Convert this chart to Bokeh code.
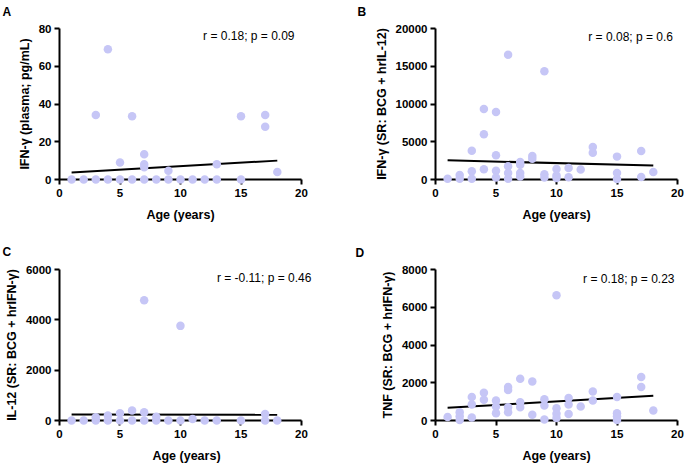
from bokeh.plotting import figure
from bokeh.layouts import gridplot
from bokeh.models import Label, SingleIntervalTicker, NumeralTickFormatter
from bokeh.core.properties import value
from bokeh.embed import file_html
from bokeh.resources import INLINE

# Panel A: plasma IFN-gamma vs age
age_a = [1, 2, 3, 4, 5, 6, 7, 8, 9, 10, 11, 12, 13, 15,
         3, 4, 5, 6, 7, 7, 7, 9, 13, 15, 17, 17, 18]
ifng_plasma = [0, 0, 0, 0, 0, 0, 0, 0, 0, 0, 0, 0, 0, 0,
               34.2, 69, 9, 33.5, 13.4, 8.1, 6.5, 4.6, 8.1, 33.5, 34.2, 27.9, 4.0]
fit_age_a = [1, 18]
fit_ifng_plasma = [3.7, 10.0]

# Panel B: IFN-gamma stimulation ratio (BCG + hrIL-12)
age_b = [1, 2, 2, 3, 3, 3, 4, 4, 4, 5, 5, 5, 5, 6, 6, 6, 6, 7, 7, 7, 7,
         8, 8, 9, 9, 9, 10, 10, 10, 11, 11, 12, 13, 13, 15, 15, 15, 17, 17, 18]
ifng_sr = [100, 600, 100, 3820, 1090, 100, 9340, 6000, 1360, 8950, 3200, 1150, 260,
           16530, 1750, 870, 100, 2320, 1970, 870, 400, 3110, 2760, 14340, 700, 260,
           1400, 520, 200, 1530, 300, 1310, 4300, 3550, 3030, 870, 50, 3780, 330, 1000]
fit_age_b = [1, 18]
fit_ifng_sr = [2540, 1840]

# Panel C: IL-12 stimulation ratio (BCG + hrIFN-gamma)
age_c = [1, 2, 3, 3, 4, 4, 5, 5, 6, 6, 7, 7, 7, 8, 8, 9, 10, 10, 11, 12, 13, 15, 17, 17, 18]
il12_sr = [0, 0, 0, 130, 200, 0, 290, 0, 400, 0, 4780, 330, 0, 150, 0, 0, 3760, 0,
           60, 0, 0, 0, 260, 0, 0]
fit_age_c = [1, 18]
fit_il12_sr = [235, 225]

# Panel D: TNF stimulation ratio (BCG + hrIFN-gamma)
age_d = [1, 2, 2, 2, 3, 3, 3, 4, 4, 5, 5, 5, 6, 6, 6, 6, 7, 7, 7, 8, 8, 9, 9, 9,
         10, 10, 10, 10, 11, 11, 11, 12, 13, 13, 15, 15, 15, 15, 17, 17, 18]
tnf_sr = [180, 440, 230, 30, 1240, 850, 160, 1470, 1100, 1060, 740, 390,
          1780, 1620, 700, 440, 2210, 970, 700, 2070, 300, 1130, 790, 50,
          6640, 650, 360, 130, 1190, 850, 350, 740, 1540, 1060,
          1240, 390, 230, 20, 2300, 1770, 530]
fit_age_d = [1, 18]
fit_tnf_sr = [670, 1310]

FONT = "Liberation Sans"
DOT = "#c6c6f6"
PX_PER_YEAR = 242 / 20


def panel(letter, xs, ys, fx, fy, ymax, ystep, ylabel, stat, left, right, top,
          bottom, letter_dx, letter_dy, stat_dx, stat_dy, xpad=0.0):
    # the frame may run a little past age 20 so the stat text stays inside it
    xend = 20 + xpad
    p = figure(frame_width=round(PX_PER_YEAR * xend), frame_height=151,
               min_border_left=left, min_border_right=right,
               min_border_top=top, min_border_bottom=bottom,
               x_range=(0, xend), y_range=(0, ymax),
               output_backend="svg", toolbar_location=None)
    p.grid.visible = False
    p.outline_line_color = None
    p.background_fill_color = "white"
    p.border_fill_color = "white"

    p.xaxis.ticker = SingleIntervalTicker(interval=5, num_minor_ticks=0)
    p.yaxis.ticker = SingleIntervalTicker(interval=ystep, num_minor_ticks=0)
    p.yaxis.formatter = NumeralTickFormatter(format="0")
    p.xaxis.bounds = (0, 20)
    p.xaxis.axis_label = "Age (years)"
    p.yaxis.axis_label = ylabel
    for ax in (p.xaxis, p.yaxis):
        ax.axis_line_width = 2
        ax.axis_line_color = "black"
        ax.major_tick_line_width = 2
        ax.major_tick_line_color = "black"
        ax.major_tick_out = 5
        ax.major_tick_in = 0
        ax.minor_tick_line_color = None
        ax.major_label_text_font = FONT
        ax.major_label_text_font_style = "bold"
        ax.major_label_text_font_size = "11.5px"
        ax.major_label_text_color = "black"
        ax.axis_label_text_font = FONT
        ax.axis_label_text_font_style = "bold"
        ax.axis_label_text_font_size = "12.5px"
        ax.axis_label_text_color = "black"
    p.xaxis.major_label_standoff = 4
    p.yaxis.major_label_standoff = 3
    p.xaxis.axis_label_standoff = 8
    p.yaxis.axis_label_standoff = 4

    p.line(fx, fy, line_color="black", line_width=2)
    p.scatter(xs, ys, size=8.5, fill_color=DOT, line_color=None, level="overlay")

    p.add_layout(Label(x=20, y=ymax, x_offset=stat_dx, y_offset=stat_dy, text=stat,
                       text_align="right", text_baseline="alphabetic",
                       text_font=FONT, text_font_size="12px", text_color="black"))

    # panel letter, anchored at the top-left corner of the axes
    p.text(x=[0], y=[ymax], text=[letter], x_offset=letter_dx, y_offset=letter_dy,
           text_align="left", text_baseline="alphabetic",
           text_font=value(FONT), text_font_size="12px", text_font_style="bold",
           text_color="black", level="overlay")
    return p


pa = panel("A", age_a, ifng_plasma, fit_age_a, fit_ifng_plasma, 80, 20,
           "IFN-γ (plasma; pg/mL)", "r = 0.18; p = 0.09",
           59, 41, 28, 53, -57, -17, -7, -7.5)
pb = panel("B", age_b, ifng_sr, fit_age_b, fit_ifng_sr, 20000, 5000,
           "IFN-γ (SR: BCG + hrIL-12)", "r = 0.08; p = 0.6",
           93, 7, 28, 53, -78, -17, -4.5, -8.5)
pc = panel("C", age_c, il12_sr, fit_age_c, fit_il12_sr, 6000, 2000,
           "IL-12 (SR: BCG + hrIFN-γ)", "r = -0.11; p = 0.46",
           59, 29, 37, 45, -57, -18, 10, -8.5, xpad=1.0)
pd_ = panel("D", age_d, tnf_sr, fit_age_d, fit_tnf_sr, 8000, 2000,
            "TNF (SR: BCG + hrIFN-γ)", "r = 0.18; p = 0.23",
            93, 7, 37, 45, -80, -17, -3, -9.5)

layout = gridplot([[pa, pb], [pc, pd_]], toolbar_location=None)

open("out.html", "w").write(file_html(layout, INLINE))
